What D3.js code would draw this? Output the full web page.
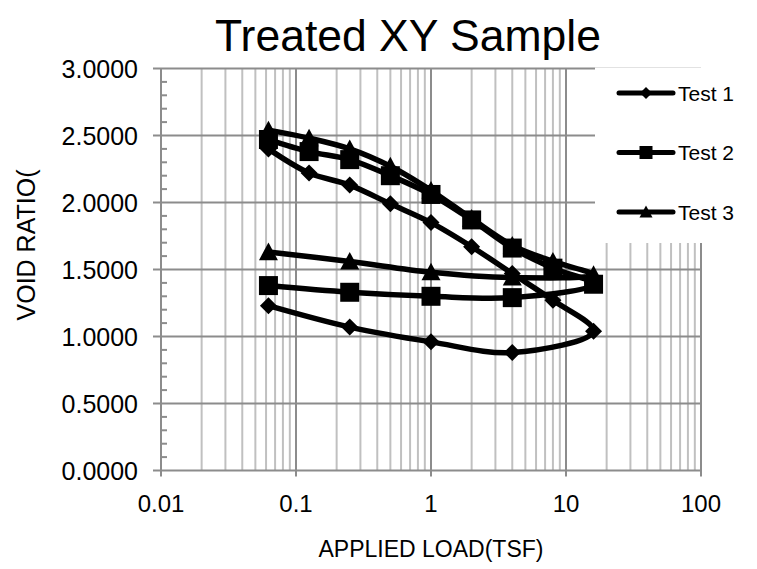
<!DOCTYPE html>
<html><head><meta charset="utf-8">
<script src="https://cdn.jsdelivr.net/npm/d3@7"></script>
<style>body{margin:0;background:#fff}svg{display:block}text{font-family:"Liberation Sans",Arial,sans-serif;fill:#000}</style>
</head><body><svg id="c" width="757" height="569"></svg>
<script>
const loads = [0.0625,0.125,0.25,0.5,1,2,4,8,16,4,1,0.25,0.0625];
const test1 = [2.40,2.22,2.13,1.99,1.85,1.67,1.47,1.27,1.04,0.88,0.96,1.07,1.23];
const test2 = [2.47,2.38,2.32,2.20,2.06,1.87,1.66,1.51,1.39,1.29,1.30,1.33,1.38];
const test3 = [2.54,2.48,2.40,2.27,2.09,1.88,1.68,1.56,1.46,1.44,1.48,1.56,1.63];
const seriesNames = ["Test 1","Test 2","Test 3"];
const seriesMarkers = ["diamond","square","triangle"];
const xTickValues = [0.01,0.1,1,10,100];
const xTickLabels = ["0.01","0.1","1","10","100"];
const yTickValues = [0,0.5,1,1.5,2,2.5,3];
const yTickLabels = ["0.0000","0.5000","1.0000","1.5000","2.0000","2.5000","3.0000"];
const titleText = "Treated XY Sample";
const xTitle = "APPLIED LOAD(TSF)";
const yTitle = "VOID RATIO(";

const svg = d3.select("#c");
const L = 161, R = 701, T = 68.5, B = 470.5;
const x = d3.scaleLog().domain([0.01,100]).range([L,R]);
const y = d3.scaleLinear().domain([0,3]).range([B,T]);

// minor vertical gridlines
const minorX = [];
[0.01,0.1,1,10].forEach(d => { for (let k=2;k<=9;k++) minorX.push(d*k); });
svg.append("g").selectAll("line").data(minorX).join("line")
  .attr("x1",d=>x(d)).attr("x2",d=>x(d)).attr("y1",T).attr("y2",B)
  .attr("stroke","#c0c0c0").attr("stroke-width",2);
svg.append("g").selectAll("line").data(xTickValues).join("line")
  .attr("x1",d=>x(d)).attr("x2",d=>x(d)).attr("y1",T).attr("y2",B+6)
  .attr("stroke","#8c8c8c").attr("stroke-width",2);
svg.append("g").selectAll("line").data(yTickValues).join("line")
  .attr("x1",L-8).attr("x2",R).attr("y1",d=>y(d)).attr("y2",d=>y(d))
  .attr("stroke","#8c8c8c").attr("stroke-width",2);
// minor y ticks
const minorY = d3.range(0,31).map(i=>i/10).filter(v=>Math.abs(v*2-Math.round(v*2))>1e-6);
svg.append("g").selectAll("line").data(minorY).join("line")
  .attr("x1",L).attr("x2",L+6).attr("y1",d=>y(d)).attr("y2",d=>y(d))
  .attr("stroke","#8c8c8c").attr("stroke-width",2);

// axis labels
svg.append("g").selectAll("text").data(yTickValues).join("text")
  .attr("x",L-23).attr("y",d=>y(d)+9).attr("text-anchor","end")
  .attr("font-size",25).text((d,i)=>yTickLabels[i]);
svg.append("g").selectAll("text").data(xTickValues).join("text")
  .attr("x",d=>x(d)).attr("y",512).attr("text-anchor","middle")
  .attr("font-size",24).text((d,i)=>xTickLabels[i]);

svg.append("text").attr("x",408).attr("y",51).attr("text-anchor","middle")
  .attr("font-size",44.5).text(titleText);
svg.append("text").attr("x",431).attr("y",557).attr("text-anchor","middle")
  .attr("font-size",23).text(xTitle);
svg.append("text").attr("transform","translate(35,245) rotate(-90)")
  .attr("text-anchor","middle").attr("font-size",25).text(yTitle);

function markerPath(type, s) {
  const p = d3.path();
  if (type==="diamond") { p.moveTo(0,-s/2); p.lineTo(s/2,0); p.lineTo(0,s/2); p.lineTo(-s/2,0); p.closePath(); }
  else if (type==="square") { p.rect(-s/2,-s/2,s,s); }
  else { p.moveTo(0,-s/2); p.lineTo(s/2,s/2*0.85); p.lineTo(-s/2,s/2*0.85); p.closePath(); }
  return p.toString();
}
const markerSize = {diamond:17, square:19, triangle:19};
const legendSize = {diamond:12, square:13, triangle:13};

const allSeries = [test1,test2,test3];
const line = d3.line().x(d=>x(d[0])).y(d=>y(d[1])).curve(d3.curveCatmullRom.alpha(0.5));
allSeries.forEach((vals,si) => {
  const pts = loads.map((l,i)=>[l,vals[i]]);
  const g = svg.append("g");
  g.append("path").attr("d",line(pts)).attr("fill","none").attr("stroke","#000")
    .attr("stroke-width",5.5).attr("stroke-linejoin","round").attr("stroke-linecap","round");
  g.selectAll("path.m").data(pts).join("path").attr("class","m")
    .attr("transform",d=>`translate(${x(d[0])},${y(d[1])})`)
    .attr("d",markerPath(seriesMarkers[si],markerSize[seriesMarkers[si]])).attr("fill","#000");
});

// legend
const lg = svg.append("g");
lg.append("rect").attr("x",595).attr("y",T-1).attr("width",162).attr("height",243-T+1).attr("fill","#fff");
seriesNames.forEach((n,i) => {
  const cy = 93 + i*59.5;
  lg.append("line").attr("x1",619).attr("x2",673).attr("y1",cy).attr("y2",cy)
    .attr("stroke","#000").attr("stroke-width",5).attr("stroke-linecap","round");
  lg.append("path").attr("transform",`translate(646,${cy})`)
    .attr("d",markerPath(seriesMarkers[i],legendSize[seriesMarkers[i]])).attr("fill","#000");
  lg.append("text").attr("x",678).attr("y",cy+7.5).attr("font-size",21).text(n);
});
</script></body></html>
